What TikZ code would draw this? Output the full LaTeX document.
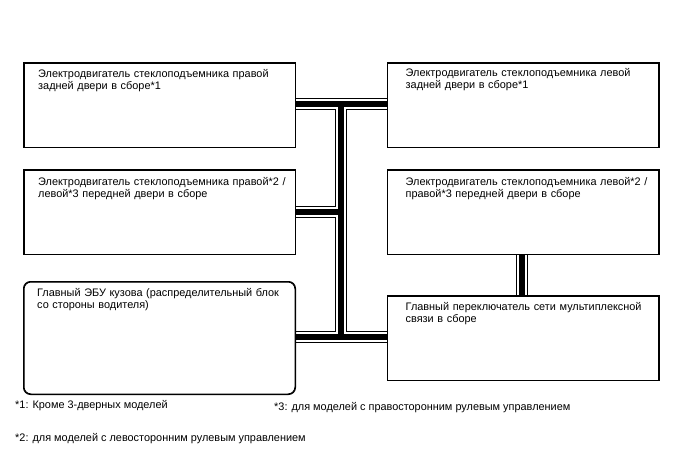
\documentclass[tikz,border=0pt]{standalone}
\usepackage{fontspec}
\setmainfont{Liberation Sans}
\usetikzlibrary{calc}
\begin{document}
\begin{tikzpicture}[x=1pt,y=-1pt,
  box/.style={draw=black, line width=1pt, fill=white, inner sep=0pt},
  rbox/.style={box, rounded corners=7pt},
  txt/.style={anchor=north west, inner sep=0pt, align=left, text width=262pt,
    font=\fontsize{10.9}{12}\selectfont},
  note/.style={anchor=base west, inner sep=0pt, font=\fontsize{10.9}{12}\selectfont},
  busA/.style={line width=12pt, black, line cap=butt, line join=miter},
  busB/.style={line width=9.6pt, white, line cap=butt, line join=miter},
  busC/.style={line width=5.2pt, black, line cap=butt, line join=miter}]
\useasboundingbox (0,0) rectangle (688,463);
% boxes
\node[box, minimum width=271pt, minimum height=84pt, anchor=north west] (b1) at (23.5,62.5) {};
\node[box, minimum width=271pt, minimum height=84pt, anchor=north west] (b2) at (23.5,169.5) {};
\node[rbox, minimum width=271pt, minimum height=112pt, anchor=north west] (b3) at (23.5,281.5) {};
\node[box, minimum width=271pt, minimum height=84pt, anchor=north west] (r1) at (387,62.5) {};
\node[box, minimum width=271pt, minimum height=84pt, anchor=north west] (r2) at (387,169.5) {};
\node[box, minimum width=271pt, minimum height=84pt, anchor=north west] (r3) at (387,295.5) {};
% bus junction coordinates
\coordinate (jt) at (341,104);
\coordinate (jm) at (341,212);
\coordinate (jb) at (341,337);
\coordinate (rb) at (522,0);
% buses, layered
\foreach \s in {busA,busB,busC}{
  \draw[\s] (b1.east |- jt) -- (r1.west |- jt);
  \draw[\s] (jt) -- (jb);
  \draw[\s] (b2.east |- jm) -- (jm);
  \draw[\s] (b3.east |- jb) -- (r3.west |- jb);
  \draw[\s] (r2.south -| rb) -- (r3.north -| rb);
}
% redraw box borders on top
\draw[line width=1pt] (b1.north west) rectangle (b1.south east);
\draw[line width=1pt] (b2.north west) rectangle (b2.south east);
\draw[line width=1pt, rounded corners=7pt] (b3.north west) rectangle (b3.south east);
\draw[line width=1pt] (r1.north west) rectangle (r1.south east);
\draw[line width=1pt] (r2.north west) rectangle (r2.south east);
\draw[line width=1pt] (r3.north west) rectangle (r3.south east);
% texts
\node[txt] (t1) at ($(b1.north west)+(14.5,6.5)$) {Электродвигатель стеклоподъемника правой\\задней двери в сборе*1};
\node[txt] (t2) at ($(b2.north west)+(14.5,7.5)$) {Электродвигатель стеклоподъемника правой*2 /\\левой*3 передней двери в сборе};
\node[txt] (t3) at ($(b3.north west)+(13.5,6.5)$) {Главный ЭБУ кузова (распределительный блок\\со стороны водителя)};
\node[txt] (t4) at ($(r1.north west)+(18.5,5.5)$) {Электродвигатель стеклоподъемника левой\\задней двери в сборе*1};
\node[txt] (t5) at ($(r2.north west)+(18.5,7.5)$) {Электродвигатель стеклоподъемника левой*2 /\\правой*3 передней двери в сборе};
\node[txt] (t6) at ($(r3.north west)+(18.5,6.5)$) {Главный переключатель сети мультиплексной\\связи в сборе};
% footnotes
\node[note] (n1) at (15,408) {*1: Кроме 3-дверных моделей};
\node[note] (n3) at (274,410) {*3: для моделей с правосторонним рулевым управлением};
\node[note] (n2) at (15,441) {*2: для моделей с левосторонним рулевым управлением};
\end{tikzpicture}
\end{document}
